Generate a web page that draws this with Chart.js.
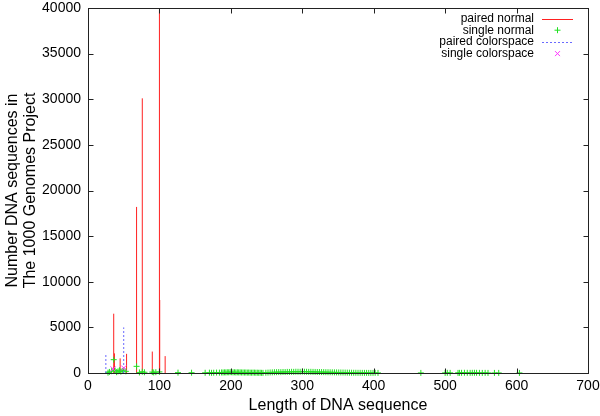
<!DOCTYPE html>
<html>
<head>
<meta charset="utf-8">
<script src="https://cdn.jsdelivr.net/npm/chart.js@4/dist/chart.umd.min.js"></script>
<style>
  body { margin: 0; background: #fff; }
  canvas { display: block; }
</style>
</head>
<body>
<canvas id="myChart" width="600" height="416"></canvas>
<script>
// read lengths (x) and counts (y) for each kind of run
const pairedNormalX = [36, 37, 45, 54, 68, 76, 90, 100, 100.4, 108];
const pairedNormalY = [6500, 2150, 1600, 2100, 18200, 30100, 2350, 39800, 8000, 1850];

const pairedColorX = [25, 50];
const pairedColorY = [2050, 5000];

const singleColorX = [35, 50];
const singleColorY = [450, 550];

const singleNormalX = [
  28, 30, 33, 36, 38, 40, 42, 44, 46, 48,
  50, 53, 68, 72, 76, 79, 90, 92, 95, 100,
  126, 145, 164, 170, 173, 176, 180, 184, 187, 189,
  191, 193, 195, 197, 199, 201, 203, 205, 207, 209,
  211, 213, 215, 217, 219, 221, 223, 225, 227, 229,
  231, 233, 235, 237, 239, 241, 243, 245, 249, 252,
  255, 258, 261, 264, 267, 270, 273, 276, 279, 282,
  285, 288, 291, 294, 297, 300, 303, 306, 309, 312,
  315, 318, 321, 324, 327, 330, 333, 336, 339, 342,
  345, 348, 351, 354, 357, 360, 363, 366, 369, 372,
  375, 378, 381, 384, 387, 390, 393, 396, 399, 402,
  406, 466, 500, 503, 507, 518, 520, 523, 527, 531,
  535, 538, 541, 544, 548, 552, 556, 560, 569, 575,
  604
];
const singleNormalY = [
  40, 120, 200, 1460, 260, 90, 180, 300, 150, 220,
  320, 180, 730, 60, 140, 80, 100, 60, 90, 120,
  40, 30, 25, 35, 20, 30, 45, 40, 60, 55,
  70, 65, 80, 75, 90, 85, 70, 80, 60, 75,
  65, 70, 55, 60, 50, 55, 45, 50, 40, 35,
  45, 40, 30, 35, 25, 30, 20, 15, 30, 45,
  60, 70, 85, 90, 100, 95, 110, 105, 120, 115,
  130, 125, 140, 135, 130, 150, 140, 135, 125, 130,
  120, 115, 110, 105, 100, 95, 90, 85, 80, 75,
  70, 65, 60, 55, 50, 45, 40, 35, 30, 25,
  25, 20, 20, 15, 15, 15, 10, 10, 10, 20,
  10, 10, 15, 20, 15, 10, 15, 20, 25, 20,
  15, 20, 25, 20, 15, 10, 15, 10, 10, 10,
  10
];

const FONT = '"Liberation Sans", Arial, Helvetica, sans-serif';

// gnuplot style impulses: a vertical segment from 0 to y, then a gap
function impulses(xs, ys) {
  const out = [];
  xs.forEach((x, i) => {
    out.push({x: x, y: 0}, {x: x, y: ys[i]}, {x: x, y: null});
  });
  return out;
}
function points(xs, ys) {
  return xs.map((x, i) => ({x: x, y: ys[i]}));
}

// full box with inward ticks on all four sides
const framePlugin = {
  id: 'frame',
  afterDatasetsDraw(chart) {
    const {ctx, chartArea: a, scales} = chart;
    const L = Math.round(a.left) + 0.5, R = Math.round(a.right) + 0.5;
    const T = Math.round(a.top) + 0.5, B = Math.round(a.bottom) + 0.5;
    ctx.save();
    ctx.strokeStyle = '#222';
    ctx.lineWidth = 1;
    ctx.beginPath();
    scales.x.ticks.forEach(t => {
      const px = Math.round(scales.x.getPixelForValue(t.value)) + 0.5;
      ctx.moveTo(px, B); ctx.lineTo(px, B - 5);
      ctx.moveTo(px, T); ctx.lineTo(px, T + 5);
    });
    scales.y.ticks.forEach(t => {
      const py = Math.round(scales.y.getPixelForValue(t.value)) + 0.5;
      ctx.moveTo(L, py); ctx.lineTo(L + 5, py);
      ctx.moveTo(R, py); ctx.lineTo(R - 5, py);
    });
    ctx.stroke();
    ctx.strokeRect(L, T, R - L, B - T);
    ctx.restore();
  }
};

// legend in the top right corner: text right aligned, sample on its right
const keyPlugin = {
  id: 'key',
  afterDraw(chart) {
    const {ctx, chartArea: a} = chart;
    const textRight = a.right - 54;
    const s0 = a.right - 46, s1 = a.right - 15, sm = (s0 + s1) / 2;
    ctx.save();
    ctx.font = '12px ' + FONT;
    ctx.textAlign = 'right';
    ctx.textBaseline = 'middle';
    chart.data.datasets.forEach((ds, i) => {
      const y = a.top + 10.5 + i * 11.7;
      ctx.fillStyle = '#000';
      ctx.fillText(ds.label, textRight, y);
      ctx.strokeStyle = ds.borderColor;
      ctx.lineWidth = 1;
      ctx.beginPath();
      if (ds.pointRadius === 0) {
        ctx.setLineDash(ds.borderDash || []);
        ctx.moveTo(s0, Math.round(y) + 0.5);
        ctx.lineTo(s1, Math.round(y) + 0.5);
      } else if (ds.pointStyle === 'cross') {
        ctx.moveTo(sm - 3, y); ctx.lineTo(sm + 3, y);
        ctx.moveTo(sm, y - 3); ctx.lineTo(sm, y + 3);
      } else {
        ctx.moveTo(sm - 2.5, y - 2.5); ctx.lineTo(sm + 2.5, y + 2.5);
        ctx.moveTo(sm - 2.5, y + 2.5); ctx.lineTo(sm + 2.5, y - 2.5);
      }
      ctx.stroke();
      ctx.setLineDash([]);
    });
    ctx.restore();
  }
};

new Chart(document.getElementById('myChart').getContext('2d'), {
  type: 'line',
  data: {
    datasets: [
      {
        label: 'paired normal',
        data: impulses(pairedNormalX, pairedNormalY),
        borderColor: '#ff2020',
        borderWidth: 1,
        pointRadius: 0,
        spanGaps: false,
        order: 3
      },
      {
        label: 'single normal',
        data: points(singleNormalX, singleNormalY),
        showLine: false,
        borderColor: '#20e020',
        backgroundColor: '#20e020',
        pointStyle: 'cross',
        pointRadius: 3,
        pointBorderWidth: 1,
        clip: false,
        order: 2
      },
      {
        label: 'paired colorspace',
        data: impulses(pairedColorX, pairedColorY),
        borderColor: '#6a6aff',
        borderWidth: 1,
        borderDash: [2, 2],
        pointRadius: 0,
        spanGaps: false,
        order: 1
      },
      {
        label: 'single colorspace',
        data: points(singleColorX, singleColorY),
        showLine: false,
        borderColor: '#ff33ff',
        backgroundColor: '#ff33ff',
        pointStyle: 'crossRot',
        pointRadius: 3.5,
        pointBorderWidth: 1,
        clip: false,
        order: 0
      }
    ]
  },
  options: {
    responsive: false,
    animation: false,
    devicePixelRatio: 1,
    layout: { padding: { top: 8, right: 12, left: 0, bottom: 0 } },
    plugins: {
      legend: { display: false },
      tooltip: { enabled: false }
    },
    scales: {
      x: {
        type: 'linear',
        min: 0,
        max: 700,
        grid: { display: false, drawTicks: false },
        border: { display: false },
        ticks: { stepSize: 100, padding: 5, color: '#000', maxRotation: 0,
                 callback: v => String(v),
                 font: { family: FONT, size: 14 } },
        title: { display: true, text: 'Length of DNA sequence', color: '#000',
                 font: { family: FONT, size: 16, lineHeight: 1.1 },
                 padding: { top: 0, bottom: 2 } },
        afterFit(scale) {
          scale.height = 43;
          scale.paddingLeft = 0;
          scale.paddingRight = 0;
        }
      },
      y: {
        type: 'linear',
        min: 0,
        max: 40000,
        grid: { display: false, drawTicks: false },
        border: { display: false },
        ticks: { stepSize: 5000, padding: 7, color: '#000',
                 callback: v => String(v),
                 font: { family: FONT, size: 14 } },
        title: { display: true,
                 text: ['Number DNA sequences in', 'The 1000 Genomes Project'],
                 color: '#000',
                 font: { family: FONT, size: 16, lineHeight: 1.1 },
                 padding: { top: 4, bottom: 0 } },
        afterFit(scale) {
          scale.width = 88;
          scale.paddingTop = 0;
          scale.paddingBottom = 0;
        }
      }
    }
  },
  plugins: [framePlugin, keyPlugin]
});
</script>
</body>
</html>
